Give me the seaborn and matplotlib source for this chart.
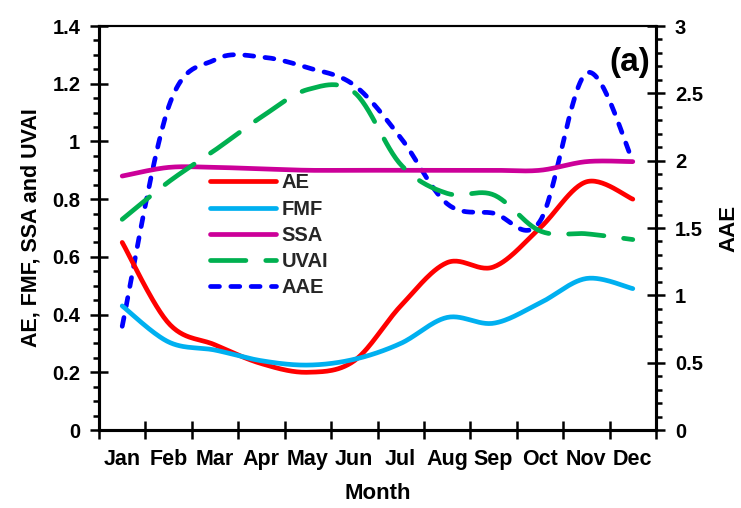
import numpy as np
import pandas as pd
import matplotlib
matplotlib.use("Agg")
import matplotlib.pyplot as plt
from matplotlib.ticker import MultipleLocator, FixedLocator, NullFormatter
import seaborn as sns

# Monthly means
months = ["Jan", "Feb", "Mar", "Apr", "May", "Jun", "Jul", "Aug", "Sep", "Oct", "Nov", "Dec"]
ae = [0.65, 0.37, 0.295, 0.23, 0.20, 0.24, 0.43, 0.58, 0.565, 0.70, 0.86, 0.80]
fmf = [0.43, 0.305, 0.277, 0.24, 0.225, 0.245, 0.30, 0.39, 0.37, 0.44, 0.525, 0.49]
ssa = [0.88, 0.91, 0.91, 0.905, 0.90, 0.90, 0.90, 0.90, 0.90, 0.90, 0.93, 0.93]
uvai = [0.73, 0.86, 0.97, 1.085, 1.18, 1.17, 0.92, 0.82, 0.815, 0.69, 0.68, 0.66]
aae = [0.77, 2.40, 2.75, 2.77, 2.69, 2.56, 2.17, 1.68, 1.61, 1.55, 2.65, 2.00]

sns.set_theme(style="ticks")
plt.rcParams["font.family"] = ["Liberation Sans", "DejaVu Sans"]
plt.rcParams["font.weight"] = "bold"
plt.rcParams["axes.labelweight"] = "bold"


def smooth(xs, ys, n=30):
    """Piecewise cubic Bezier through the points (spreadsheet-style smoothed line)."""
    xs = np.asarray(xs, float)
    ys = np.asarray(ys, float)
    px = np.concatenate([[xs[0]], xs, [xs[-1]]])
    py = np.concatenate([[ys[0]], ys, [ys[-1]]])
    out_x, out_y = [], []
    t = np.linspace(0, 1, n)
    for i in range(1, len(px) - 2):
        p0 = np.array([px[i], py[i]])
        p3 = np.array([px[i + 1], py[i + 1]])
        c1 = p0 + (np.array([px[i + 1], py[i + 1]]) - np.array([px[i - 1], py[i - 1]])) / 6
        c2 = p3 - (np.array([px[i + 2], py[i + 2]]) - np.array([px[i], py[i]])) / 6
        b = ((1 - t) ** 3)[:, None] * p0 + (3 * (1 - t) ** 2 * t)[:, None] * c1 \
            + (3 * (1 - t) * t ** 2)[:, None] * c2 + (t ** 3)[:, None] * p3
        if i > 1:
            b = b[1:]
        out_x.append(b[:, 0])
        out_y.append(b[:, 1])
    return np.concatenate(out_x), np.concatenate(out_y)


xpos = np.arange(1, 13)

fig = plt.figure(figsize=(7.41, 5.08), dpi=100)
ax = fig.add_axes([99 / 741, 1 - 430 / 508, 557 / 741, 404 / 508])
ax2 = ax.twinx()

lw = 3.4
styles = {
    "AE": dict(color="#FF0000", ls="-"),
    "FMF": dict(color="#00B0F0", ls="-"),
    "SSA": dict(color="#CC0099", ls="-"),
    "UVAI": dict(color="#00B050", ls=(0, (7.5, 4.2))),
}
series = {"AE": ae, "FMF": fmf, "SSA": ssa, "UVAI": uvai}

handles = []
for name, vals in series.items():
    sx, sy = smooth(xpos, vals)
    df = pd.DataFrame({"x": sx, "y": sy})
    sns.lineplot(data=df, x="x", y="y", sort=False, estimator=None, ax=ax,
                 color=styles[name]["color"], linewidth=lw, label=name)
    line = ax.get_lines()[-1]
    line.set_linestyle(styles[name]["ls"])
    line.set_solid_capstyle("round")
    line.set_dash_capstyle("round")
    handles.append(line)

sx, sy = smooth(xpos, aae)
df = pd.DataFrame({"x": sx, "y": sy})
sns.lineplot(data=df, x="x", y="y", sort=False, estimator=None, ax=ax2,
             color="#0000FF", linewidth=lw, label="AAE")
aline = ax2.get_lines()[-1]
aline.set_linestyle((0, (1.9, 2.4)))
aline.set_dash_capstyle("round")
handles.append(aline)

if ax.get_legend():
    ax.get_legend().remove()
if ax2.get_legend():
    ax2.get_legend().remove()

# Axes limits and ticks
ax.set_xlim(0.5, 12.5)
ax.set_ylim(0, 1.4)
ax2.set_ylim(0, 3)

ax.xaxis.set_major_locator(FixedLocator(np.arange(0.5, 12.6, 1)))
ax.xaxis.set_major_formatter(NullFormatter())
ax.xaxis.set_minor_locator(FixedLocator(xpos))
ax.set_xticks(xpos, months, minor=True)

ax.yaxis.set_major_locator(MultipleLocator(0.2))
ax.yaxis.set_minor_locator(MultipleLocator(0.05))
ax.set_yticks(np.arange(0, 1.41, 0.2), ["0", "0.2", "0.4", "0.6", "0.8", "1", "1.2", "1.4"])
ax2.yaxis.set_major_locator(MultipleLocator(0.5))
ax2.yaxis.set_minor_locator(MultipleLocator(0.1))
ax2.set_yticks(np.arange(0, 3.01, 0.5), ["0", "0.5", "1", "1.5", "2", "2.5", "3"])

fs_tick = 14.5
fs_lab = 15.5
ax.tick_params(axis="x", which="major", direction="inout", length=13, width=1.8, color="black")
ax.tick_params(axis="x", which="minor", length=0, pad=14, labelsize=fs_lab, labelcolor="black")
ax.tick_params(axis="y", which="major", direction="inout", length=13, width=1.8,
               labelsize=fs_tick, pad=7, color="black", labelcolor="black")
ax.tick_params(axis="y", which="minor", direction="out", length=4, width=1.8, color="black")
ax2.tick_params(axis="y", which="major", direction="inout", length=13, width=1.8,
                labelsize=fs_tick, pad=7, color="black", labelcolor="black")
ax2.tick_params(axis="y", which="minor", direction="out", length=4.5, width=1.8, color="black")

for a in (ax, ax2):
    for side in ("left", "right", "bottom"):
        a.spines[side].set_linewidth(2.2)
        a.spines[side].set_color("black")
    a.spines["top"].set_linewidth(1.5)
    a.spines["top"].set_color("black")
    a.spines["top"].set_visible(True)
    a.spines["right"].set_visible(True)
    a.grid(False)

for lab in ax.get_xticklabels(minor=True) + ax.get_yticklabels() + ax2.get_yticklabels():
    lab.set_fontweight("bold")

ax.set_xlabel("Month", fontsize=16, fontweight="bold", color="black", labelpad=9)
ax.set_ylabel("AE, FMF, SSA and UVAI", fontsize=15.5, fontweight="bold", color="black",
              labelpad=8)
ax2.set_ylabel("AAE", fontsize=16, fontweight="bold", color="black", labelpad=11)

ax.text(0.953, 0.91, "(a)", transform=ax.transAxes, fontsize=24, fontweight="bold",
        ha="center", va="center", color="black")

leg = ax.legend(handles=handles, labels=["AE", "FMF", "SSA", "UVAI", "AAE"],
                loc="upper left", bbox_to_anchor=(0.199, 0.635), frameon=False,
                borderpad=0, borderaxespad=0, handlelength=3.3, handletextpad=0.25,
                labelspacing=0.36, prop={"size": 14.5, "weight": "bold"})
leg.set_zorder(10)
ax.set_zorder(ax2.get_zorder() + 1)
ax.patch.set_visible(False)

fig.savefig("out.png", dpi=100, facecolor="white")
